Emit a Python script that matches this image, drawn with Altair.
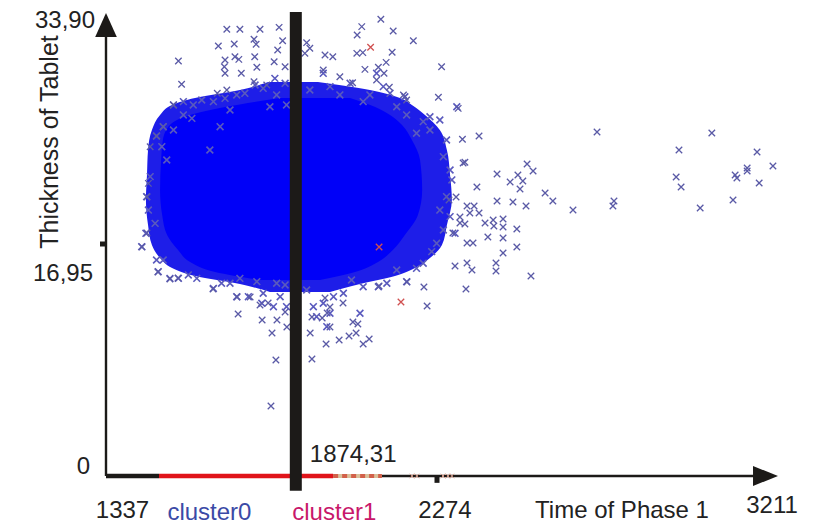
import altair as alt
import pandas as pd

# ---------------- data ----------------
# axis end values
x_min, x_mid, x_max = 1337, 2274, 3211
y_min, y_mid, y_max = 0, 16.95, 33.90
split_value = 1874.31

# dense core of the cloud: thickness level, left / right extent of time
core_thick = [27.62, 26.96, 26.38, 25.64, 24.55, 23.09, 20.90, 19.07, 17.61, 16.51, 15.64, 14.90, 14.32]
core_left = [1830, 1674, 1575, 1518, 1498, 1493, 1490, 1496, 1510, 1541, 1575, 1646, 1773]
core_right = [2028, 2099, 2141, 2175, 2203, 2226, 2232, 2220, 2183, 2149, 2107, 2042, 1943]

# speckled fringe of the cloud
fringe_thick = [28.79, 28.20, 27.62, 27.11, 26.37, 25.28, 23.82, 21.99, 20.16, 18.34, 16.88, 15.93, 15.20, 14.61, 14.03, 13.44]
fringe_left = [1796, 1716, 1589, 1524, 1490, 1467, 1456, 1453, 1450, 1456, 1467, 1490, 1524, 1589, 1716, 1801]
fringe_right = [1937, 2084, 2169, 2203, 2240, 2282, 2302, 2311, 2316, 2302, 2288, 2254, 2212, 2155, 2056, 1971]

# single crosses along the edge of the cloud
edge_time = [1528, 1556, 1584, 1608, 1641, 1580, 1499, 1480, 1495, 1528, 1674, 1707, 1730, 1759, 1782,
             1815, 1820, 1844, 1848, 1801, 1688, 1660, 1631, 1556, 1509, 1462, 1452, 1457, 1476, 1450,
             1438, 1480, 1499, 1485, 1518, 1542, 1570, 1594, 1641, 1664, 1707, 1740, 1778, 1782, 1811,
             1830, 1844, 1848, 1820, 1688, 1716, 1764,
             1914, 1952, 1971, 1999, 2028, 2065, 2084, 2103, 2122, 2141, 2160, 2183, 2188, 2235, 2254,
             2282, 2301, 2292, 2311, 2316, 2301, 2282, 2311, 2325, 2292, 2273, 2259, 2235, 2216, 2188,
             2160, 2132, 2108, 2065, 2032, 2009, 1981, 1952, 1924, 1971, 2056, 1962, 1933, 1905, 2330,
             2216, 2254]
edge_thick = [27.11, 27.35, 27.11, 27.47, 27.35, 26.13, 25.52, 24.84, 24.06, 25.28, 27.59, 27.84, 27.96, 28.57, 28.32,
              29.05, 27.84, 28.69, 27.11, 26.98, 26.74, 25.52, 23.82, 26.38, 23.09, 21.87, 20.41, 19.43, 18.46, 17.73,
              16.76, 15.78, 15.78, 14.93, 14.44, 14.44, 14.69, 14.44, 13.71, 14.08, 13.10, 13.10, 12.62, 13.35, 12.37,
              13.10, 13.96, 12.37, 14.08, 14.08, 14.44, 14.20,
              28.20, 29.42, 28.45, 27.84, 28.69, 27.35, 27.84, 29.42, 28.45, 27.96, 26.98, 27.71, 26.38, 25.89, 25.28,
              26.01, 24.55, 23.33, 22.36, 21.63, 20.41, 19.43, 18.95, 17.73, 17.97, 17.00, 16.39, 15.54, 15.17, 14.20,
              15.05, 14.08, 13.83, 13.83, 14.32, 13.35, 13.10, 12.62, 12.37, 11.89, 11.89, 10.91, 11.64, 13.59, 26.98,
              25.04, 26.25]

# isolated points (cluster0, blue crosses)
out_time = [1679, 1716, 1773, 1827, 1655, 1700, 1756, 1762, 1837, 1542, 1674, 1702, 1713, 1758, 1672,
            1764, 1813, 1823, 1551, 1674, 1720, 1844, 1679, 1652, 1756, 1792, 1905, 1914, 1900, 1957,
            1979, 2061, 2048, 2115, 2150, 2207, 2047, 2064, 2147, 2130, 2070, 2108, 2124, 2103, 1952,
            1999, 2035, 2139, 2179, 2188, 2287, 2278, 2334, 2346, 2353, 1528, 1499, 1462, 1457, 1480,
            1439, 1453, 1453, 1484, 1518, 1541, 1640, 1708, 1745, 1711, 1779, 1807, 1849, 1818, 1804,
            1920, 1915, 1960, 1997, 2025, 2045, 2065, 2082, 2050, 2036, 1971, 1949, 1920, 1963, 1971,
            2008, 1957, 2110, 2189, 2237, 2246, 2325, 2356, 2359, 2359, 2339, 1821, 1773, 1796, 1844,
            2393, 2727, 3052, 2959, 3180, 3225, 2951, 2965, 3118, 3123, 3152, 3152, 3186, 3112, 3019,
            2775, 2772, 2659, 2602, 2580, 2529, 2546, 2444, 2481, 2503, 2517, 2509, 2387, 2444, 2489,
            2526, 2359, 2379, 2367, 2393, 2328, 2339, 2353, 2410, 2433, 2461, 2435, 2461, 2500, 2418,
            2461, 2376, 2500, 2461, 2373, 2441, 2441, 2540, 2348, 2308, 2319]
out_thick = [32.64, 32.64, 32.64, 32.78, 31.42, 31.56, 31.91, 31.54, 31.80, 30.32, 30.39, 30.63, 30.44, 30.63, 29.90,
             29.86, 30.27, 31.12, 28.62, 29.42, 29.42, 29.90, 28.20, 27.96, 28.81, 28.57, 31.66, 31.25, 30.88, 30.76,
             30.63, 32.83, 32.22, 33.37, 32.51, 31.80, 30.88, 30.93, 30.96, 30.22, 29.71, 29.86, 29.42, 28.93, 29.66,
             29.17, 28.73, 28.40, 27.84, 27.47, 29.90, 27.67, 26.86, 24.60, 22.92, 27.11, 25.52, 24.06, 21.38, 24.84,
             16.73, 20.38, 17.75, 14.90, 14.39, 14.47, 13.66, 13.08, 13.08, 11.84, 11.40, 10.45, 10.89, 8.47, 5.11,
             8.55, 10.45, 9.64, 9.94, 10.23, 10.45, 9.64, 10.01, 11.11, 11.25, 10.89, 11.54, 11.62, 11.91, 12.35,
             12.64, 13.00, 13.88, 14.17, 13.81, 12.42, 15.34, 13.66, 15.56, 17.02, 18.48, 11.40, 12.49, 12.64, 11.98,
             24.84, 25.13, 25.06, 23.82, 23.67, 22.65, 21.84, 21.11, 21.99, 21.77, 22.50, 22.28, 21.41, 20.16, 19.58,
             20.09, 19.73, 19.43, 20.09, 20.68, 22.79, 22.28, 22.06, 21.48, 21.99, 21.55, 20.97, 21.11, 20.09, 20.02,
             19.73, 19.73, 19.73, 19.21, 19.21, 20.38, 18.92, 18.41, 18.48, 18.70, 18.78, 18.27, 18.19, 18.05, 17.46,
             17.39, 17.02, 16.73, 16.29, 15.05, 15.56, 14.98, 14.61, 22.87, 20.16, 17.75]

# cluster1 points (red crosses)
red_time = [2086, 2172, 2110]
red_thick = [31.32, 12.71, 16.73]

# coloured segments on the time axis
seg_black_end = 1487
seg_red_end = 1980
seg_mix_end = 2118
axis_mark_time = [2203, 2217, 2291, 2305, 2316]

# ---------------- chart ----------------
W, H = 662, 464
xs = alt.Scale(domain=[x_min, x_max], nice=False, zero=False)
ys = alt.Scale(domain=[y_min, y_max], nice=False, zero=False)
FONT = "Liberation Sans"
INK = "#1c1a18"


def X(f):
    return alt.X(f, type="quantitative", scale=xs, axis=None)


def Y(f):
    return alt.Y(f, type="quantitative", scale=ys, axis=None)


fringe = alt.Chart(pd.DataFrame({"t": fringe_thick, "l": fringe_left, "r": fringe_right})).mark_area(
    orient="horizontal", interpolate="monotone", color="#1e1ee8"
).encode(y=Y("t"), x=X("l"), x2="r")

core = alt.Chart(pd.DataFrame({"t": core_thick, "l": core_left, "r": core_right})).mark_area(
    orient="horizontal", interpolate="monotone", color="#0000f8"
).encode(y=Y("t"), x=X("l"), x2="r")

CROSS = "M-1,-1L1,1M-1,1L1,-1"
edges = alt.Chart(pd.DataFrame({"x": edge_time, "y": edge_thick})).mark_point(
    shape=CROSS, filled=False, size=46, strokeWidth=1.6, color="#5a5abe", opacity=1
).encode(x=X("x"), y=Y("y"))

outliers = alt.Chart(pd.DataFrame({"x": out_time, "y": out_thick})).mark_point(
    shape=CROSS, filled=False, size=42, strokeWidth=1.3, color="#5a5aa6", opacity=1
).encode(x=X("x"), y=Y("y"))

reds = alt.Chart(pd.DataFrame({"x": red_time, "y": red_thick})).mark_point(
    shape=CROSS, filled=False, size=42, strokeWidth=1.3, color="#d05050", opacity=1
).encode(x=X("x"), y=Y("y"))

# axes
yaxis = alt.Chart(pd.DataFrame({"x": [x_min], "a": [y_min], "b": [32.5]})).mark_rule(
    color=INK, strokeWidth=2.4
).encode(x=X("x"), y=Y("a"), y2="b")

xaxis = alt.Chart(pd.DataFrame({"a": [x_min], "b": [3200], "y": [y_min]})).mark_rule(
    color=INK, strokeWidth=2.6
).encode(x=X("a"), x2="b", y=Y("y"))

seg_black = alt.Chart(pd.DataFrame({"a": [x_min], "b": [seg_black_end], "y": [y_min]})).mark_rule(
    color=INK, strokeWidth=4.5
).encode(x=X("a"), x2="b", y=Y("y"))

seg_red = alt.Chart(pd.DataFrame({"a": [seg_black_end], "b": [seg_red_end], "y": [y_min]})).mark_rule(
    color="#e0141a", strokeWidth=4.5
).encode(x=X("a"), x2="b", y=Y("y"))

seg_mix_base = alt.Chart(pd.DataFrame({"a": [seg_red_end], "b": [seg_mix_end], "y": [y_min]})).mark_rule(
    color="#d9c09a", strokeWidth=4
).encode(x=X("a"), x2="b", y=Y("y"))

seg_mix_dash = alt.Chart(pd.DataFrame({"a": [seg_red_end], "b": [seg_mix_end], "y": [y_min]})).mark_rule(
    color="#d2604a", strokeWidth=4, strokeDash=[5, 4]
).encode(x=X("a"), x2="b", y=Y("y"))

axis_marks = alt.Chart(pd.DataFrame({"x": axis_mark_time, "y": [y_min] * len(axis_mark_time)})).mark_point(
    shape=CROSS, filled=False, size=20, strokeWidth=1, color="#d59a88", opacity=1
).encode(x=X("x"), y=Y("y"))

tick_x = alt.Chart(pd.DataFrame({"x": [x_mid], "a": [y_min], "b": [-0.5]})).mark_rule(
    color=INK, strokeWidth=5
).encode(x=X("x"), y=Y("a"), y2="b")

tick_y = alt.Chart(pd.DataFrame({"a": [1320], "b": [x_min], "y": [y_mid]})).mark_rule(
    color=INK, strokeWidth=5
).encode(x=X("a"), x2="b", y=Y("y"))

arrow_x = alt.Chart(pd.DataFrame({"x": [3204], "y": [y_min]})).mark_point(
    shape="M-1,-0.8L1,0L-1,0.8Z", filled=True, size=625, color=INK, opacity=1
).encode(x=X("x"), y=Y("y"))

arrow_y = alt.Chart(pd.DataFrame({"x": [x_min], "y": [32.95]})).mark_point(
    shape="M-0.9,1L0,-1L0.9,1Z", filled=True, size=576, color=INK, opacity=1
).encode(x=X("x"), y=Y("y"))

split_bar = alt.Chart(pd.DataFrame({"x": [split_value], "a": [-1.07], "b": [y_max]})).mark_rule(
    color=INK, strokeWidth=12
).encode(x=X("x"), y=Y("a"), y2="b")


def label(text, x, y, dx, dy, color="#222222", align="center", angle=0, size=24):
    kw = dict(font=FONT, fontSize=size, color=color, align=align, baseline="alphabetic", dx=dx, dy=dy)
    if angle:
        kw["angle"] = angle
    return alt.Chart(pd.DataFrame({"x": [x], "y": [y], "t": [text]})).mark_text(**kw).encode(
        x=X("x"), y=Y("y"), text="t:N"
    )


texts = [
    label("33,90", x_min, y_max, -11, 16, align="right"),
    label("16,95", x_min, y_mid, -13, 37, align="right"),
    label("0", x_min, y_min, -16, -2, align="right"),
    label("1337", x_min, y_min, 16.5, 42),
    label("2274", x_mid, y_min, 8, 42),
    label("3211", x_max, y_min, 4, 37),
    label("1874,31", split_value, y_min, 14, -14, align="left"),
    label("cluster0", (x_min + split_value) / 2, y_min, 8.5, 44, color="#3b4aa6"),
    label("cluster1", split_value, y_min, 38.5, 44, color="#c8176a"),
    label("Time of Phase 1", (x_mid + x_max) / 2, y_min, 19.5, 42),
    label("Thickness of Tablet", x_min, y_max, -130, -48, angle=270, size=25),
]

chart = alt.layer(
    fringe, core, edges, outliers, reds,
    yaxis, xaxis, seg_black, seg_red, seg_mix_base, seg_mix_dash, axis_marks,
    tick_x, tick_y, arrow_x, arrow_y, split_bar,
    *texts
).properties(
    width=W, height=H,
    autosize=alt.AutoSizeParams(type="none"),
    padding={"left": 106, "top": 12, "right": 51, "bottom": 50},
    background="white",
).configure_view(strokeWidth=0)

chart.save("out.html", embed_options={"renderer": "svg", "actions": False})
